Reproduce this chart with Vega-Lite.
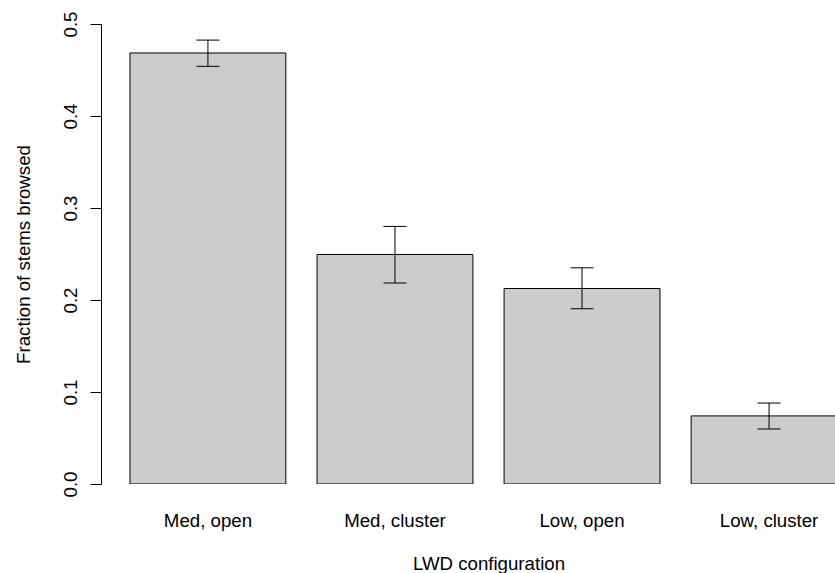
{
  "$schema": "https://vega.github.io/schema/vega-lite/v6.json",
  "autosize": {"type": "none"},
  "padding": {"left": 101, "top": 24, "right": 0, "bottom": 89},
  "width": 734,
  "height": 460,
  "background": "white",
  "config": {
    "view": {"stroke": null},
    "font": "Liberation Sans",
    "axis": {
      "labelFont": "Liberation Sans",
      "titleFont": "Liberation Sans",
      "labelFontSize": 18.67,
      "titleFontSize": 18.67,
      "titleFontWeight": "normal",
      "labelColor": "black",
      "titleColor": "black",
      "grid": false,
      "labelOverlap": false,
      "labelFlush": false,
      "labelBound": false
    }
  },
  "data": {
    "values": [
      {"config": "Med, open", "frac": 0.4685, "lo": 0.454, "hi": 0.4825},
      {"config": "Med, cluster", "frac": 0.2495, "lo": 0.2185, "hi": 0.28},
      {"config": "Low, open", "frac": 0.2125, "lo": 0.1905, "hi": 0.235},
      {"config": "Low, cluster", "frac": 0.074, "lo": 0.0598, "hi": 0.088}
    ]
  },
  "encoding": {
    "x": {
      "field": "config",
      "type": "nominal",
      "sort": null,
      "scale": {"type": "band", "range": [0, 775], "paddingInner": 0.1667, "paddingOuter": 0.155},
      "axis": {
        "ticks": false,
        "tickSize": 0,
        "domain": false,
        "labelAngle": 0,
        "labelAlign": "center",
        "labelBaseline": "alphabetic",
        "labelPadding": 42,
        "title": "LWD configuration",
        "titleX": 387.5,
        "titleY": 85,
        "titleAlign": "center",
        "titleBaseline": "alphabetic",
        "titleAnchor": null
      }
    }
  },
  "layer": [
    {
      "mark": {"type": "bar", "fill": "#cccccc", "stroke": "black", "strokeWidth": 1, "clip": true},
      "encoding": {
        "y": {
          "field": "frac",
          "type": "quantitative",
          "scale": {"domain": [0, 0.5], "nice": false, "zero": true},
          "axis": {
            "values": [0, 0.1, 0.2, 0.3, 0.4, 0.5],
            "format": ".1f",
            "labelAngle": 270,
            "labelAlign": "center",
            "labelBaseline": "alphabetic",
            "labelPadding": 14,
            "tickSize": 11,
            "tickColor": "black",
            "tickWidth": 1,
            "domainColor": "black",
            "domainWidth": 1,
            "title": "Fraction of stems browsed",
            "titleAngle": 270,
            "titleAlign": "center",
            "titleBaseline": "alphabetic",
            "titleX": -72,
            "titleY": 230,
            "titleAnchor": null
          }
        }
      }
    },
    {
      "mark": {"type": "rule", "color": "black", "strokeWidth": 1, "clip": true},
      "encoding": {
        "y": {"field": "lo", "type": "quantitative"},
        "y2": {"field": "hi"}
      }
    },
    {
      "mark": {"type": "tick", "orient": "horizontal", "color": "black", "size": 23, "thickness": 1, "opacity": 1, "clip": true},
      "encoding": {
        "y": {"field": "hi", "type": "quantitative"}
      }
    },
    {
      "mark": {"type": "tick", "orient": "horizontal", "color": "black", "size": 23, "thickness": 1, "opacity": 1, "clip": true},
      "encoding": {
        "y": {"field": "lo", "type": "quantitative"}
      }
    }
  ]
}
